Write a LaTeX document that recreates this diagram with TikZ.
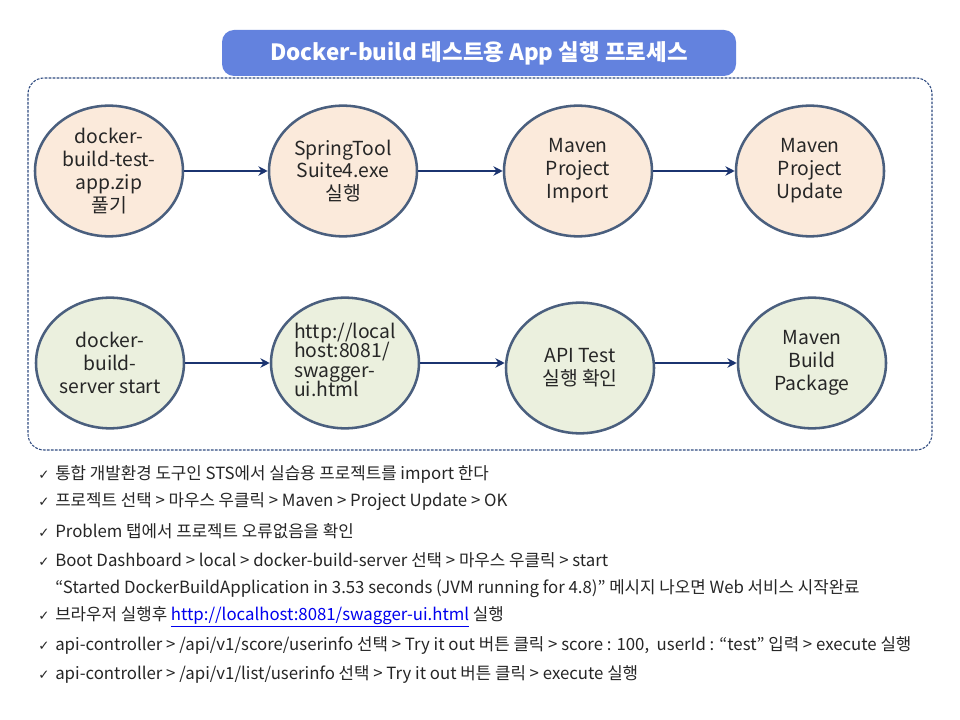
\documentclass[tikz,border=0pt]{standalone}
\usepackage{fontspec}
\setmainfont{Noto Sans CJK KR}
\newfontfamily\symfont{DejaVu Sans}
\usetikzlibrary{arrows.meta,shapes.geometric}
\definecolor{titleblue}{HTML}{6382DE}
\definecolor{framec}{HTML}{2F4A80}
\definecolor{edgec}{HTML}{4A5F7E}
\definecolor{peach}{HTML}{FBEADB}
\definecolor{sage}{HTML}{EBF0DE}
\definecolor{arrowc}{HTML}{1B3470}
\definecolor{linkc}{HTML}{0000EE}
\tikzset{
  proc/.style={ellipse, draw=edgec, line width=1.9pt, minimum width=111pt, minimum height=98pt, inner sep=0pt, align=center, font=\fontsize{14.5}{17.2}\selectfont, text=black!85},
  top/.style={proc, fill=peach},
  bot/.style={proc, fill=sage},
  flow/.style={-{Stealth[length=7pt,width=7pt]}, draw=arrowc, line width=1.4pt},
  bullet/.style={anchor=west, inner sep=0pt, font=\fontsize{12.6}{15}\selectfont, text=black!85},
}
\newcommand{\chk}{\makebox[12.75pt][l]{\symfont\fontsize{10}{11}\selectfont ✓}}
\begin{document}
\begin{tikzpicture}[x=0.75pt,y=-0.75pt]
\useasboundingbox (0,0) rectangle (960,720);
\fill[white] (0,0) rectangle (960,720);
% frame
\draw[framec, line width=0.8pt, dash pattern=on 2pt off 1pt, rounded corners=12pt] (28,78) rectangle (932,450);
% title
\node[fill=titleblue, rounded corners=9pt, minimum width=385.5pt, minimum height=34.5pt, text=white, font=\fontsize{16.8}{20}\selectfont\bfseries] (title) at (479,53) {Docker-build 테스트용 App 실행 프로세스};
% top row
\node[top] (t1) at (109,171) {docker-\\build-test-\\app.zip\\풀기};
\node[top] (t2) at (343,171) {SpringTool\\Suite4.exe\\실행};
\node[top] (t3) at (578,171) {Maven\\Project\\Import};
\node[top] (t4) at (810,171) {Maven\\Project\\Update};
% bottom row
\node[bot] (b1) at (110,363) {docker-\\build-\\server start};
\node[bot] (b2) at (345,363) {\begin{tabular}{@{}l@{}}http://local\\[-2.5pt]host:8081/\\[-2.5pt]swagger-\\[-2.5pt]ui.html\end{tabular}};
\node[bot] (b3) at (580,368) {API Test\\실행 확인};
\node[bot] (b4) at (812,363) {Maven\\Build\\Package};
% arrows
\draw[flow] (t1) -- (t2);
\draw[flow] (t2) -- (t3);
\draw[flow] (t3) -- (t4);
\draw[flow] (b1.east) -- (b2.west);
\draw[flow] (b2.east) -- (b3.west |- b2.east);
\draw[flow] (b3.east |- b4.west) -- (b4.west);
% bullet text
\node[bullet] (l1) at (38,474) {\chk 통합 개발환경 도구인 STS에서 실습용 프로젝트를 import 한다};
\node[bullet] (l2) at (38,502) {\chk 프로젝트 선택 > 마우스 우클릭 > Maven > Project Update > OK};
\node[bullet] (l3) at (38,531) {\chk Problem 탭에서 프로젝트 오류없음을 확인};
\node[bullet] (l4) at (38,560) {\chk Boot Dashboard > local > docker-build-server 선택 > 마우스 우클릭 > start};
\node[bullet] (l5) at (55,589) {“Started DockerBuildApplication in 3.53 seconds (JVM running for 4.8)” 메시지 나오면 Web 서비스 시작완료};
\node[bullet] (l6) at (38,617) {\chk 브라우저 실행후 {\color{linkc}\underline{http://localhost:8081/swagger-ui.html}} 실행};
\node[bullet] (l7) at (38,646) {\chk api-controller > /api/v1/score/userinfo 선택 > Try it out 버튼 클릭 > score : 100,~ userId : “test” 입력 > execute 실행};
\node[bullet] (l8) at (38,675) {\chk api-controller > /api/v1/list/userinfo 선택 > Try it out 버튼 클릭 > execute 실행};
\end{tikzpicture}
\end{document}
